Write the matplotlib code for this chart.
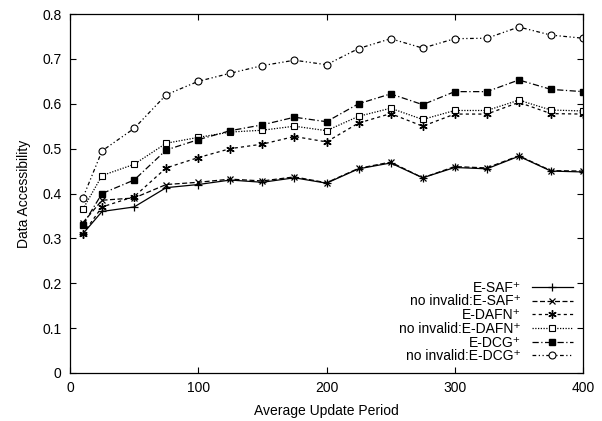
import numpy as np
import matplotlib
matplotlib.use('Agg')
import matplotlib.pyplot as plt

plt.rcParams['font.family'] = ['Liberation Sans', 'DejaVu Sans']

period = [10, 25, 50, 75, 100, 125, 150, 175, 200, 225, 250, 275, 300, 325, 350, 375, 400]

e_saf = [0.31, 0.36, 0.37, 0.413, 0.42, 0.43, 0.425, 0.435, 0.423, 0.455, 0.468, 0.435, 0.458, 0.455, 0.483, 0.45, 0.448]
ni_e_saf = [0.335, 0.385, 0.39, 0.42, 0.425, 0.432, 0.428, 0.437, 0.424, 0.456, 0.47, 0.435, 0.46, 0.457, 0.484, 0.451, 0.45]
e_dafn = [0.31, 0.37, 0.393, 0.457, 0.48, 0.5, 0.51, 0.527, 0.515, 0.557, 0.578, 0.55, 0.577, 0.577, 0.603, 0.578, 0.577]
ni_e_dafn = [0.365, 0.44, 0.465, 0.512, 0.525, 0.537, 0.541, 0.55, 0.54, 0.572, 0.59, 0.565, 0.585, 0.585, 0.608, 0.586, 0.584]
e_dcg = [0.33, 0.40, 0.43, 0.497, 0.52, 0.54, 0.553, 0.57, 0.56, 0.6, 0.622, 0.598, 0.627, 0.627, 0.653, 0.632, 0.627]
ni_e_dcg = [0.39, 0.495, 0.545, 0.62, 0.65, 0.668, 0.685, 0.697, 0.687, 0.723, 0.745, 0.724, 0.745, 0.746, 0.771, 0.753, 0.746]

labels = ['E-SAF\u207a', 'no invalid:E-SAF\u207a', 'E-DAFN\u207a',
          'no invalid:E-DAFN\u207a', 'E-DCG\u207a', 'no invalid:E-DCG\u207a']

fig = plt.figure(figsize=(6.02, 4.21), dpi=100)
ax = fig.add_axes([70/602, 48/421, 513/602, 359/421])

lw = 0.9
ax.plot(period, e_saf, color='black', lw=lw, ls='-', marker='+', ms=5.5, mew=0.9, label=labels[0])
ax.plot(period, ni_e_saf, color='black', lw=lw, ls=(0, (4, 2)), marker='x', ms=4.5, mew=0.9, label=labels[1])
ax.plot(period, e_dafn, color='black', lw=lw, ls=(0, (2.5, 2.5)), marker=(6, 2, 0), ms=6, mew=1, label=labels[2])
ax.plot(period, ni_e_dafn, color='black', lw=lw, ls=(0, (1, 1.2)), marker='s', ms=4.8, mew=0.8, mfc='white', label=labels[3])
ax.plot(period, e_dcg, color='black', lw=lw, ls=(0, (5, 2, 1, 2)), marker='s', ms=5, mfc='black', label=labels[4])
ax.plot(period, ni_e_dcg, color='black', lw=lw, ls=(0, (3, 2, 1, 2, 1, 2)), marker='o', ms=5, mew=0.8, mfc='white', label=labels[5])

ax.set_xlim(0, 400)
ax.set_ylim(0, 0.8)
ax.set_xticks(np.arange(0, 401, 100))
ax.set_yticks(np.arange(0, 0.81, 0.1))
ax.set_yticklabels(['0', '0.1', '0.2', '0.3', '0.4', '0.5', '0.6', '0.7', '0.8'])
ax.tick_params(direction='in', top=True, right=True, length=4.5, width=0.8, labelsize=10, pad=6)
for s in ax.spines.values():
    s.set_linewidth(0.9)

ax.set_xlabel('Average Update Period', fontsize=10, labelpad=6)
ax.set_ylabel('Data Accessibility', fontsize=10, labelpad=8)

ax.legend(loc='lower right', frameon=False, markerfirst=False, fontsize=10,
          handlelength=3.0, labelspacing=-0.02, borderaxespad=0.3, handletextpad=0.8)

fig.savefig('out.png', dpi=100)
